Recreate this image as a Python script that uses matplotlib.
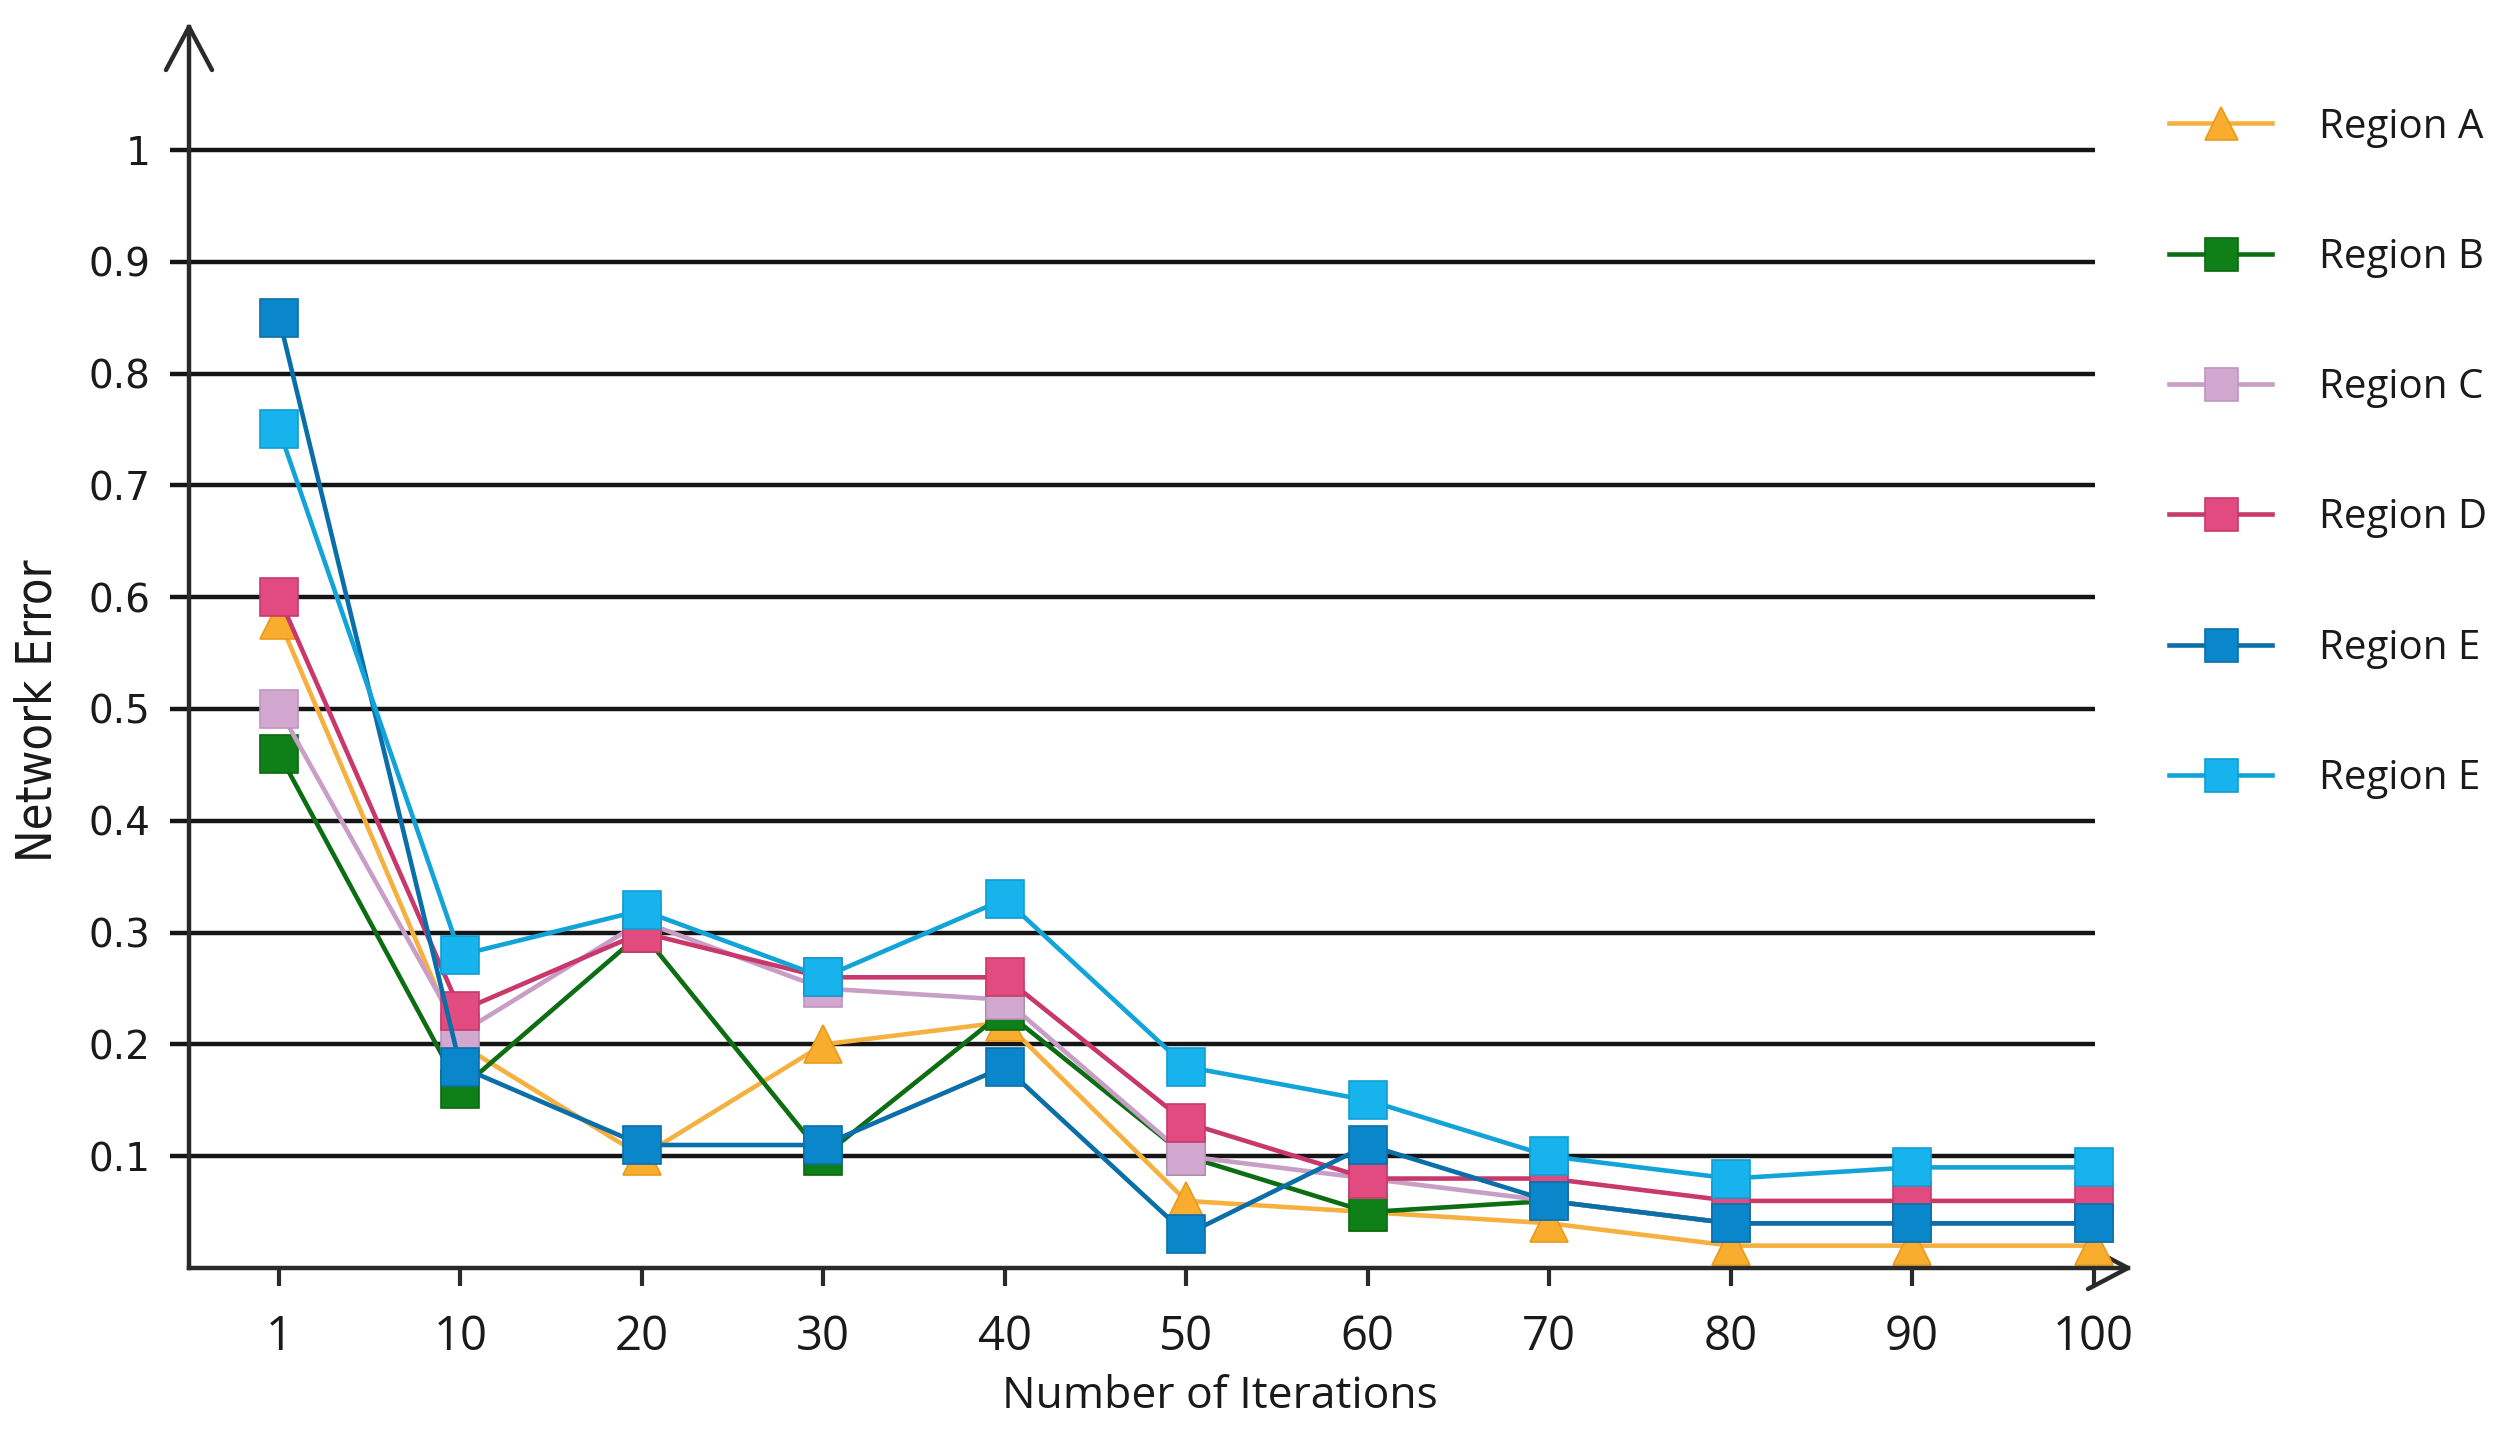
import matplotlib.pyplot as plt
from matplotlib.lines import Line2D

# values
iterations = ['1', '10', '20', '30', '40', '50', '60', '70', '80', '90', '100']
region_a = [0.58, 0.20, 0.10, 0.20, 0.22, 0.06, 0.05, 0.04, 0.02, 0.02, 0.02]
region_b = [0.46, 0.16, 0.30, 0.10, 0.23, 0.10, 0.05, 0.06, 0.04, 0.04, 0.04]
region_c = [0.50, 0.21, 0.31, 0.25, 0.24, 0.10, 0.08, 0.06, 0.04, 0.04, 0.04]
region_d = [0.60, 0.23, 0.30, 0.26, 0.26, 0.13, 0.08, 0.08, 0.06, 0.06, 0.06]
region_e = [0.85, 0.18, 0.11, 0.11, 0.18, 0.03, 0.11, 0.06, 0.04, 0.04, 0.04]
region_e2 = [0.75, 0.28, 0.32, 0.26, 0.33, 0.18, 0.15, 0.10, 0.08, 0.09, 0.09]

y_ticks = [0.1, 0.2, 0.3, 0.4, 0.5, 0.6, 0.7, 0.8, 0.9, 1.0]
y_tick_labels = ['0.1', '0.2', '0.3', '0.4', '0.5', '0.6', '0.7', '0.8', '0.9', '1']

series = [
    ('Region A', region_a, '^', '#f9ad2f', '#f6b03f', '#e99a1c'),
    ('Region B', region_b, 's', '#0f7f18', '#0c6d12', '#0a6a10'),
    ('Region C', region_c, 's', '#d3a8d0', '#c89dc6', '#c095bd'),
    ('Region D', region_d, 's', '#e14b7f', '#c8386b', '#c93a6c'),
    ('Region E', region_e, 's', '#0a87ca', '#0a6ea9', '#0a70ab'),
    ('Region E', region_e2, 's', '#17b3ec', '#12a4d8', '#0f9fd3'),
]

W, H = 2500, 1442
fig = plt.figure(figsize=(W / 100, H / 100), dpi=100)
# axes box: y axis at x=189px, x axis (value 0) at y=1268px
ax = fig.add_axes([189 / W, 1 - 1268 / H, (2128 - 189) / W, (1268 - 27) / H])

x = list(range(len(iterations)))
ax.set_xlim(-0.496, 10.19)
ax.set_ylim(0, 1.11)

# horizontal grid lines, stopping at the last category
ax.hlines(y_ticks, -0.6, 10.01, colors='#151515', linewidth=3.2, zorder=1, clip_on=False)

for name, vals, mk, mcol, lcol, ecol in series:
    ax.plot(x, vals, color=lcol, linewidth=3.3, marker=mk, markersize=27,
            markerfacecolor=mcol, markeredgecolor=ecol, markeredgewidth=1.2,
            label=name, zorder=3)

for side in ['top', 'right']:
    ax.spines[side].set_visible(False)
for side in ['left', 'bottom']:
    ax.spines[side].set_color('#2a2a2a')
    ax.spines[side].set_linewidth(3.2)
    ax.spines[side].set_zorder(4)

# open chevron arrow heads on both axes
aw, ah = 1939, 1241
ax.add_line(Line2D([-23 / aw, 0, 23 / aw], [1 - 43 / ah, 1, 1 - 43 / ah], transform=ax.transAxes,
                   color='#2a2a2a', linewidth=3.2, clip_on=False, solid_capstyle='round'))
ax.add_line(Line2D([1 - 40 / aw, 1, 1 - 40 / aw], [21 / ah, 0, -21 / ah], transform=ax.transAxes,
                   color='#2a2a2a', linewidth=3.2, clip_on=False, solid_capstyle='round'))

ax.set_yticks(y_ticks)
ax.set_yticklabels(y_tick_labels, fontsize=28, family='DejaVu Sans', color='#1a1a1a')
ax.tick_params(axis='y', length=0, pad=28)

ax.set_xticks(x)
ax.set_xticklabels(iterations, fontsize=34, family='Open Sans', color='#1a1a1a')
ax.tick_params(axis='x', direction='out', length=13, width=3, color='#2a2a2a', pad=20)

fig.text(1220 / W, 1 - 1397 / H, 'Number of Iterations', fontsize=32, family='Open Sans',
         ha='center', va='center', color='#1a1a1a')
fig.text(38 / W, 1 - 711 / H, 'Network Error', fontsize=35, family='DejaVu Sans',
         stretch='condensed', rotation=90, ha='center', va='center', color='#1a1a1a')

leg = fig.legend(loc='upper left', bbox_to_anchor=(2169 / W, 1 - 107 / H), frameon=False,
                 prop={'family': 'Open Sans', 'size': 29}, handlelength=2.56, handletextpad=1.17,
                 labelspacing=2.23, borderpad=0, borderaxespad=0, markerscale=0.88)
for t in leg.get_texts():
    t.set_color('#1a1a1a')

fig.savefig('out.png', dpi=100, facecolor='white')
